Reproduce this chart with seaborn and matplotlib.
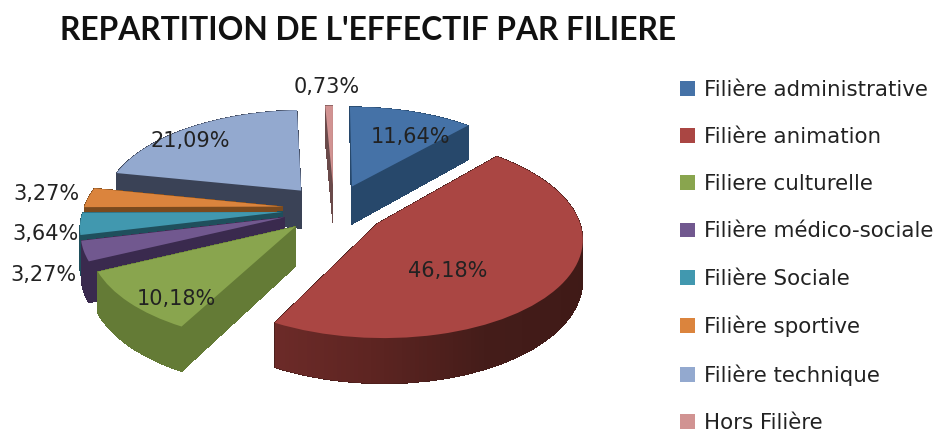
#!/usr/bin/env python3
# -*- coding: utf8 -*-

import numpy as np
import matplotlib
matplotlib.use('Agg')
import matplotlib.pyplot as plt
from matplotlib.patches import Patch
from matplotlib.path import Path
from matplotlib.transforms import Transform
import seaborn as sns

categories = ['Filière administrative', 'Filière animation', 'Filiere culturelle', 'Filière médico-sociale',
              'Filière Sociale', 'Filière sportive', 'Filière technique', 'Hors Filière']
shares = [11.64, 46.18, 10.18, 3.27, 3.64, 3.27, 21.09, 0.73]
share_labels = ['11,64%', '46,18%', '10,18%', '3,27%', '3,64%', '3,27%', '21,09%', '0,73%']
label_px = [(410, 137), (448, 271), (176, 299), (43, 275), (46, 234), (46, 194), (190, 141), (327, 87)]

top_colors = sns.color_palette(['#4572a7', '#aa4643', '#89a54e', '#71588f', '#4198af', '#db843d', '#93a9cf', '#d19392'])
wall_colors = sns.color_palette(['#27486b', '#451d1a', '#647b36', '#3a2a4e', '#1f4f5c', '#7a4a1e', '#3a4256', '#6a4a4a'])

W, H = 939, 434
CX, CY, R = 334, 209, 199   # pie centre and radius, in pixels
SQUASH, PERSP, DEPTH, EXPL = 0.48, 0.13, 0.195, 0.26


# tilted pie seen from the front: far side smaller, near side bigger
class Tilt(Transform):
    input_dims = 2
    output_dims = 2

    def __init__(self, drop=0.0):
        super().__init__()
        self.drop = drop

    def transform_non_affine(self, xy):
        xy = np.asarray(xy)
        f = 1 / (1 + PERSP * xy[:, 1])
        return np.column_stack((xy[:, 0] * f, (xy[:, 1] * SQUASH - self.drop) * f))


sns.set_theme(style='white')
plt.rcParams['font.family'] = ['DejaVu Sans']
fig = plt.figure(figsize=(W / 100, H / 100), dpi=100)
ax = fig.add_axes([0, 0, 1, 1])


def draw_pie(colors, drop, zorder, smooth):
    wedges, _ = ax.pie(shares, colors=colors, startangle=90, counterclock=False, explode=[EXPL] * len(shares),
                       wedgeprops={'linewidth': 0, 'zorder': zorder, 'antialiased': smooth})
    tilt = Tilt(drop)
    for w in wedges:
        w.set_transform(tilt + ax.transData)
    return [tilt.transform_path(w.get_path()) for w in wedges]


# side walls, stacked from the bottom up
animation_paths = []
for d in np.linspace(DEPTH, 0, 60):
    animation_paths.append(draw_pie(wall_colors, d, 1, False)[1])
draw_pie(top_colors, 0, 3, True)

ax.set_aspect('auto')
xlim = (-CX / R, (W - CX) / R)
ylim = ((CY - H) / R, CY / R)

# the long outer wall of the animation slice gets lighter towards the left
shade = np.array([sns.blend_palette(['#6f2c2a', '#5e2522', '#451d1a', '#3f1a17'], n_colors=80)])
im = ax.imshow(shade, extent=((255 - CX) / R, (600 - CX) / R, -1.2, 0.2), aspect='auto', zorder=2)
im.set_clip_path(Path.make_compound_path(*animation_paths), transform=ax.transData)
ax.set_xlim(xlim)
ax.set_ylim(ylim)
ax.axis('off')

for txt, (px, py) in zip(share_labels, label_px):
    fig.text(px / W, 1 - py / H, txt, ha='center', va='center', fontsize=15, color='#222222', zorder=5)

fig.text(60 / W, 1 - 31 / H, "REPARTITION DE L'EFFECTIF PAR FILIERE", family='Lato', weight='bold',
         fontsize=22.85, color='#111111', ha='left', va='center')

handles = [Patch(facecolor=c, edgecolor='none') for c in top_colors]
fig.legend(handles, categories, loc='upper left', bbox_to_anchor=(680 / W, 1 - 80 / H), frameon=False, borderpad=0,
           borderaxespad=0, fontsize=15.4, labelspacing=1.27, handlelength=0.7, handleheight=0.7, handletextpad=0.42,
           labelcolor='#222222')

fig.savefig('out.png', dpi=100)
